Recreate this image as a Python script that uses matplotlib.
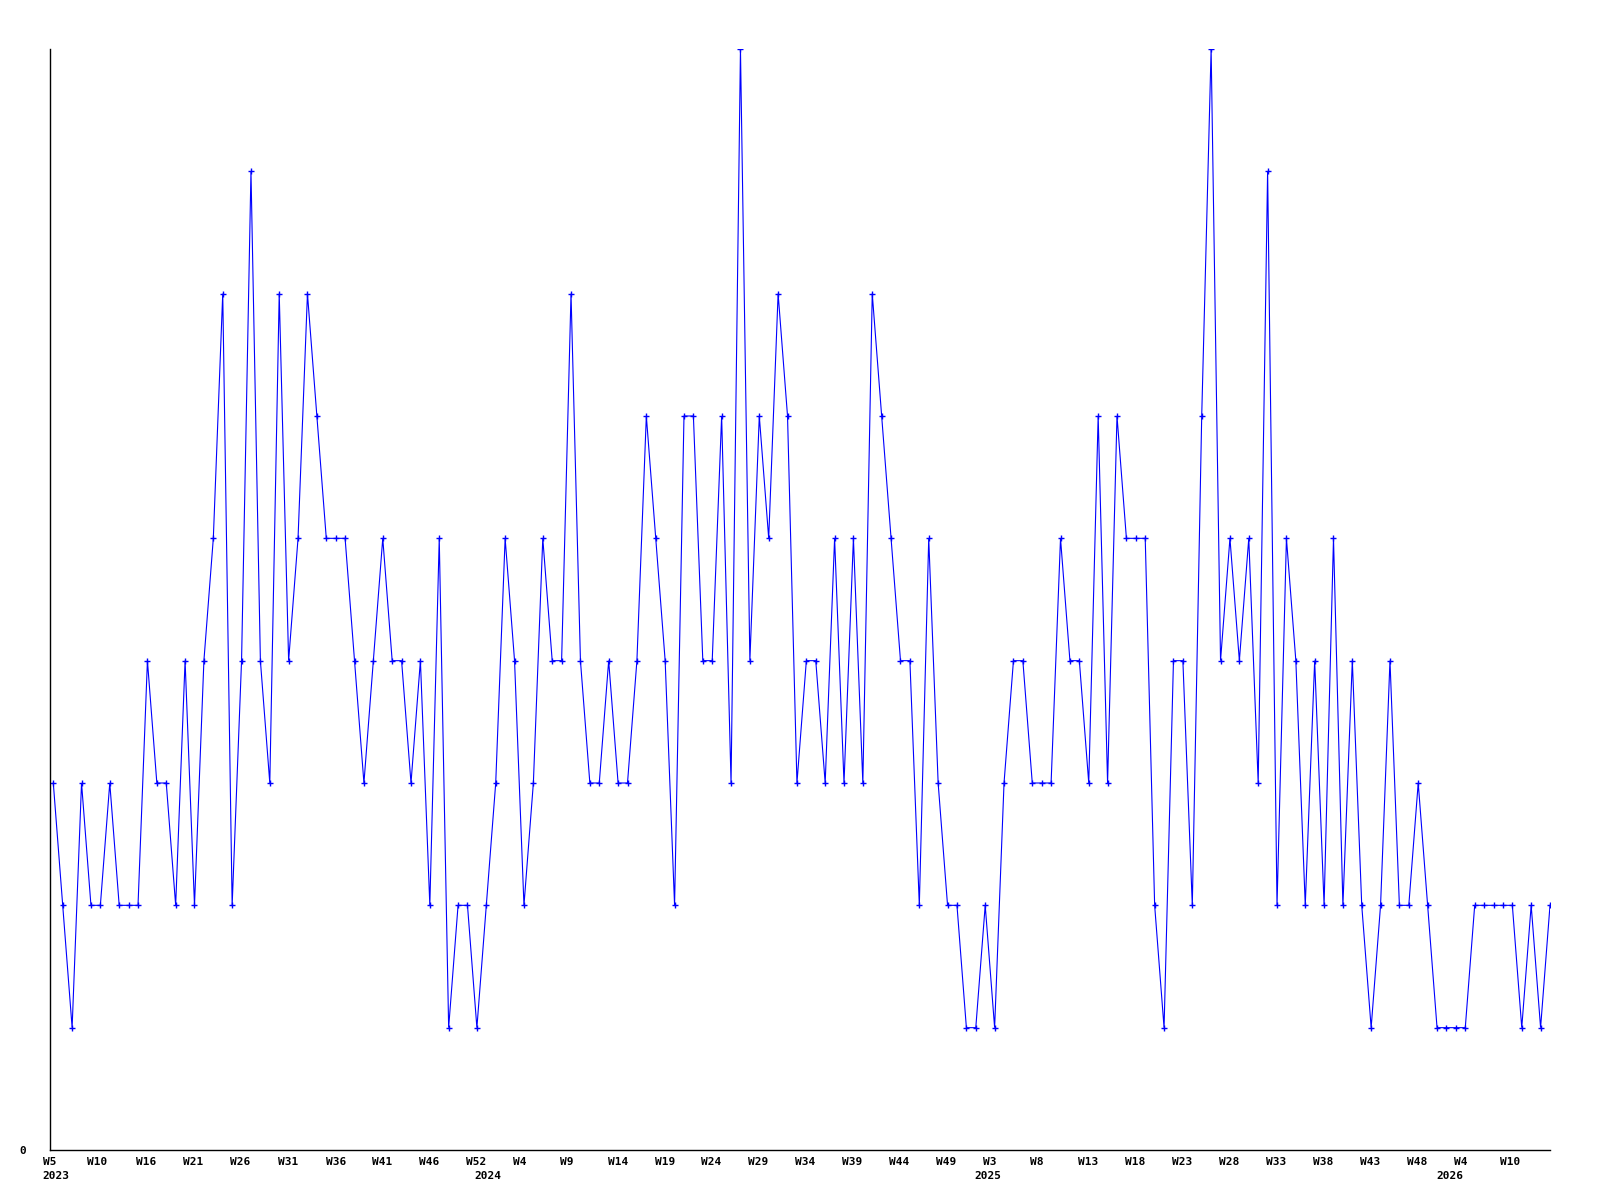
import matplotlib
matplotlib.use("Agg")
import matplotlib.pyplot as plt
import matplotlib.transforms as mtransforms

values = [3, 2, 1, 3, 2, 2, 3, 2, 2, 2,
          4, 3, 3, 2, 4, 2, 4, 5, 7, 2,
          4, 8, 4, 3, 7, 4, 5, 7, 6, 5,
          5, 5, 4, 3, 4, 5, 4, 4, 3, 4,
          2, 5, 1, 2, 2, 1, 2, 3, 5, 4,
          2, 3, 5, 4, 4, 7, 4, 3, 3, 4,
          3, 3, 4, 6, 5, 4, 2, 6, 6, 4,
          4, 6, 3, 9, 4, 6, 5, 7, 6, 3,
          4, 4, 3, 5, 3, 5, 3, 7, 6, 5,
          4, 4, 2, 5, 3, 2, 2, 1, 1, 2,
          1, 3, 4, 4, 3, 3, 3, 5, 4, 4,
          3, 6, 3, 6, 5, 5, 5, 2, 1, 4,
          4, 2, 6, 9, 4, 5, 4, 5, 3, 8,
          2, 5, 4, 2, 4, 2, 5, 2, 4, 2,
          1, 2, 4, 2, 2, 3, 2, 1, 1, 1,
          1, 2, 2, 2, 2, 2, 1, 2, 1, 2]

week_labels = ["W5", "W10", "W16", "W21", "W26", "W31", "W36", "W41", "W46", "W52",
               "W4", "W9", "W14", "W19", "W24", "W29", "W34", "W39", "W44", "W49",
               "W3", "W8", "W13", "W18", "W23", "W28", "W33", "W38", "W43", "W48",
               "W4", "W10"]
week_pos = [-0.35, 4.65, 9.9, 14.9, 19.9, 24.9, 30.0, 34.95, 39.95, 44.9,
            49.6, 54.5, 60.0, 64.95, 69.9, 74.9, 79.9, 84.9, 89.9, 94.9,
            99.5, 104.5, 109.9, 114.9, 119.9, 124.9, 129.9, 134.9, 139.9, 144.9,
            149.5, 154.8]
year_labels = ["2023", "2024", "2025", "2026"]
year_pos = [0.3, 46.2, 99.3, 148.4]

FONT = "DejaVu Sans Mono"

fig = plt.figure(figsize=(16, 12), dpi=100)
ax = fig.add_axes([50/1600, 50/1200, 1500/1600, (1150-49)/1200])

x = list(range(len(values)))
ax.plot(x, values, color="#0000ff", linewidth=0.8, marker="+",
        markersize=4, markeredgewidth=1.0, solid_joinstyle="miter")

ax.set_xlim(0, len(values) - 1)
ax.set_ylim(0, 9)

for s in ["top", "right"]:
    ax.spines[s].set_visible(False)
for s in ["left", "bottom"]:
    ax.spines[s].set_color("black")
    ax.spines[s].set_linewidth(1.0)

ax.set_xticks(week_pos)
ax.set_xticklabels(week_labels, fontfamily=FONT, fontweight="bold", fontsize=8)
ax.tick_params(axis="x", length=0, pad=5)
ax.set_yticks([0])
ax.set_yticklabels(["0"], fontfamily=FONT, fontweight="bold", fontsize=8)
ax.tick_params(axis="y", length=0, pad=17)

trans = mtransforms.blended_transform_factory(ax.transData, ax.transAxes)
trans = mtransforms.offset_copy(trans, fig=fig, x=0, y=-26, units="dots")
for lbl, p in zip(year_labels, year_pos):
    ax.text(p, 0, lbl, transform=trans, ha="center", va="center",
            fontfamily=FONT, fontweight="bold", fontsize=8, clip_on=False)

fig.savefig("out.png", dpi=100)
